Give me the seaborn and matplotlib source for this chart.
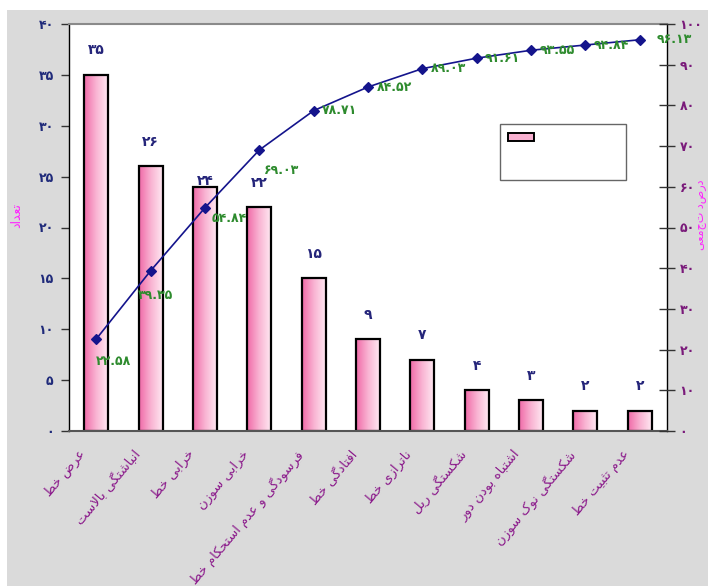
import numpy as np
import matplotlib
matplotlib.use("Agg")
import matplotlib.pyplot as plt
import seaborn as sns
from matplotlib.patches import Rectangle
from matplotlib.colors import LinearSegmentedColormap

categories = [
    "عرض خط",
    "انباشتگی بالاست",
    "خرابی خط",
    "خرابی سوزن",
    "فرسودگی و عدم استحکام خط",
    "افتادگی خط",
    "ناترازی خط",
    "شکستگی ریل",
    "اشتباه بودن دور",
    "شکستگی نوک سوزن",
    "عدم تثبیت خط",
]
counts = [35, 26, 24, 22, 15, 9, 7, 4, 3, 2, 2]
cum_pct = [22.58, 39.35, 54.84, 69.03, 78.71, 84.52, 89.03, 91.61, 93.55, 94.84, 96.13]
left_ticks = [0, 5, 10, 15, 20, 25, 30, 35, 40]
right_ticks = [0, 10, 20, 30, 40, 50, 60, 70, 80, 90, 100]
left_title = "تعداد"
right_title = "درصد تجمعی"

# minimal arabic/persian shaping (matplotlib has no bidi support)
FORMS = {
    "ا": ("\uFE8D", "\uFE8E", None, None),
    "ب": ("\uFE8F", "\uFE90", "\uFE91", "\uFE92"),
    "ت": ("\uFE95", "\uFE96", "\uFE97", "\uFE98"),
    "ث": ("\uFE99", "\uFE9A", "\uFE9B", "\uFE9C"),
    "ح": ("\uFEA1", "\uFEA2", "\uFEA3", "\uFEA4"),
    "خ": ("\uFEA5", "\uFEA6", "\uFEA7", "\uFEA8"),
    "د": ("\uFEA9", "\uFEAA", None, None),
    "ر": ("\uFEAD", "\uFEAE", None, None),
    "ز": ("\uFEAF", "\uFEB0", None, None),
    "س": ("\uFEB1", "\uFEB2", "\uFEB3", "\uFEB4"),
    "ش": ("\uFEB5", "\uFEB6", "\uFEB7", "\uFEB8"),
    "ض": ("\uFEBD", "\uFEBE", "\uFEBF", "\uFEC0"),
    "ط": ("\uFEC1", "\uFEC2", "\uFEC3", "\uFEC4"),
    "ع": ("\uFEC9", "\uFECA", "\uFECB", "\uFECC"),
    "ف": ("\uFED1", "\uFED2", "\uFED3", "\uFED4"),
    "ل": ("\uFEDD", "\uFEDE", "\uFEDF", "\uFEE0"),
    "م": ("\uFEE1", "\uFEE2", "\uFEE3", "\uFEE4"),
    "ن": ("\uFEE5", "\uFEE6", "\uFEE7", "\uFEE8"),
    "ه": ("\uFEE9", "\uFEEA", "\uFEEB", "\uFEEC"),
    "و": ("\uFEED", "\uFEEE", None, None),
    "ی": ("\uFBFC", "\uFBFD", "\uFBFE", "\uFBFF"),
    "ک": ("\uFB8E", "\uFB8F", "\uFB90", "\uFB91"),
    "گ": ("\uFB92", "\uFB93", "\uFB94", "\uFB95"),
}


def shape(text):
    out = []
    i = 0
    while i < len(text):
        c = text[i]
        if c not in FORMS:
            out.append(c)
            i += 1
            continue
        prev = text[i - 1] if i > 0 else None
        nxt = text[i + 1] if i + 1 < len(text) else None
        join_prev = prev in FORMS and FORMS[prev][2] is not None
        if c == "ل" and nxt == "ا":
            out.append("\uFEFC" if join_prev else "\uFEFB")
            i += 2
            continue
        join_next = nxt in FORMS and FORMS[c][2] is not None
        iso, fin, ini, med = FORMS[c]
        if join_prev and join_next:
            out.append(med)
        elif join_prev:
            out.append(fin)
        elif join_next:
            out.append(ini)
        else:
            out.append(iso)
        i += 1
    return "".join(reversed(out))


fa_digits = str.maketrans("0123456789", "۰۱۲۳۴۵۶۷۸۹")


def fa(v):
    return str(v).translate(fa_digits)


sns.set_style("white")
plt.rcParams["font.family"] = ["DejaVu Sans"]

fig = plt.figure(figsize=(7.08, 5.86), dpi=100)
fig.patch.set_facecolor("white")
fig.patches.append(Rectangle((7 / 708, 0), 1, 1 - 10 / 586, transform=fig.transFigure,
                             facecolor="#dadada", edgecolor="none", zorder=-10))
ax = fig.add_axes([69 / 708, 1 - 431 / 586, 598 / 708, 407 / 586])
ax.set_facecolor("white")

n = len(categories)
sns.barplot(x=list(range(n)), y=counts, ax=ax, color="#f8a8cc", edgecolor="black",
            linewidth=1.6, width=0.44, native_scale=True)

# horizontal pink gradient inside each bar
pink = LinearSegmentedColormap.from_list("pink", ["#f06aa8", "#f9b3d2", "#ffe8f2"])
grad = np.linspace(0, 1, 64).reshape(1, -1)
for p in ax.patches:
    x0, w, h = p.get_x(), p.get_width(), p.get_height()
    im = ax.imshow(grad, cmap=pink, extent=(x0, x0 + w, 0, h), aspect="auto",
                   zorder=0.9, interpolation="bilinear")
    im.set_clip_path(p)
    p.set_facecolor("none")
    p.set_zorder(1.2)

ax.set_xlim(-0.5, n - 0.5)
ax.set_ylim(0, 40)
ax.set_yticks(left_ticks)
ax.set_yticklabels([fa(t) for t in left_ticks], color="#1f2a7a", fontsize=9, fontweight="bold")
ax.tick_params(axis="y", direction="out", length=6, width=1, color="#333333", pad=5)
ax.set_xticks(np.arange(-0.5, n, 1))
ax.set_xticklabels([])
ax.tick_params(axis="x", direction="inout", length=12, width=1, color="#333333")

for s in ["left", "right"]:
    ax.spines[s].set_color("black")
    ax.spines[s].set_linewidth(1)
ax.spines["top"].set_color("#8a8a8a")
ax.spines["top"].set_linewidth(1.5)
ax.spines["bottom"].set_color("#555555")
ax.spines["bottom"].set_linewidth(1.5)

# bar value labels
nudge = [0, 0, -1.8, 0, 0, 0, 0, 0, 0, 0, 0]
for i, v in enumerate(counts):
    ax.text(i, v + 2.4 + nudge[i], fa(v), ha="center", va="center", color="#25257a",
            fontsize=10, fontweight="bold")

# rotated category labels
for i, c in enumerate(categories):
    ax.annotate(shape(c), xy=(i, 0), xycoords=("data", "axes fraction"),
                xytext=(-13, -12), textcoords="offset points", rotation=50,
                rotation_mode="anchor", ha="right", va="top", color="#8b1a8b",
                fontsize=9.5)

# cumulative line
ax2 = ax.twinx()
sns.pointplot(x=list(range(n)), y=cum_pct, ax=ax2, color="#14148c", markers="D",
              linewidth=1.2, markersize=5.5, native_scale=True)
ax2.set_xlim(-0.5, n - 0.5)
ax2.set_ylim(0, 100)
ax2.set_yticks(right_ticks)
ax2.set_yticklabels([fa(t) for t in right_ticks], color="#7a1a7a", fontsize=9, fontweight="bold")
ax2.tick_params(axis="y", direction="inout", length=12, width=1, color="#333333", pad=3)
ax2.set_ylabel("")
for s in ax2.spines.values():
    s.set_visible(False)

offsets = [(0, -16), (-9, -18), (5, -8), (3, -15), (6, 0), (6, 0), (6, 0), (6, 0),
           (6, 0), (6, 0), (12, 0)]
for i, v in enumerate(cum_pct):
    ax2.annotate(fa(f"{v:.2f}"), xy=(i, v), xytext=offsets[i], textcoords="offset points",
                 ha="left", va="center", color="#2e8b2e", fontsize=9, fontweight="bold")

# legend box (labels empty in the original)
ax2.add_patch(Rectangle((0.721, 0.617), 0.21, 0.137, transform=ax2.transAxes,
                        facecolor="white", edgecolor="#666666", linewidth=1, zorder=5))
ax2.add_patch(Rectangle((0.734, 0.712), 0.044, 0.02, transform=ax2.transAxes,
                        facecolor="#f8b0d0", edgecolor="black", linewidth=1.4, zorder=6))

fig.text(17 / 708, 1 - 215 / 586, shape(left_title), rotation=90, ha="center", va="center",
         color="#ff22ff", fontsize=9)
fig.text(701 / 708, 1 - 215 / 586, shape(right_title), rotation=90, ha="center", va="center",
         color="#ff22ff", fontsize=8)

fig.savefig("out.png", dpi=100)
